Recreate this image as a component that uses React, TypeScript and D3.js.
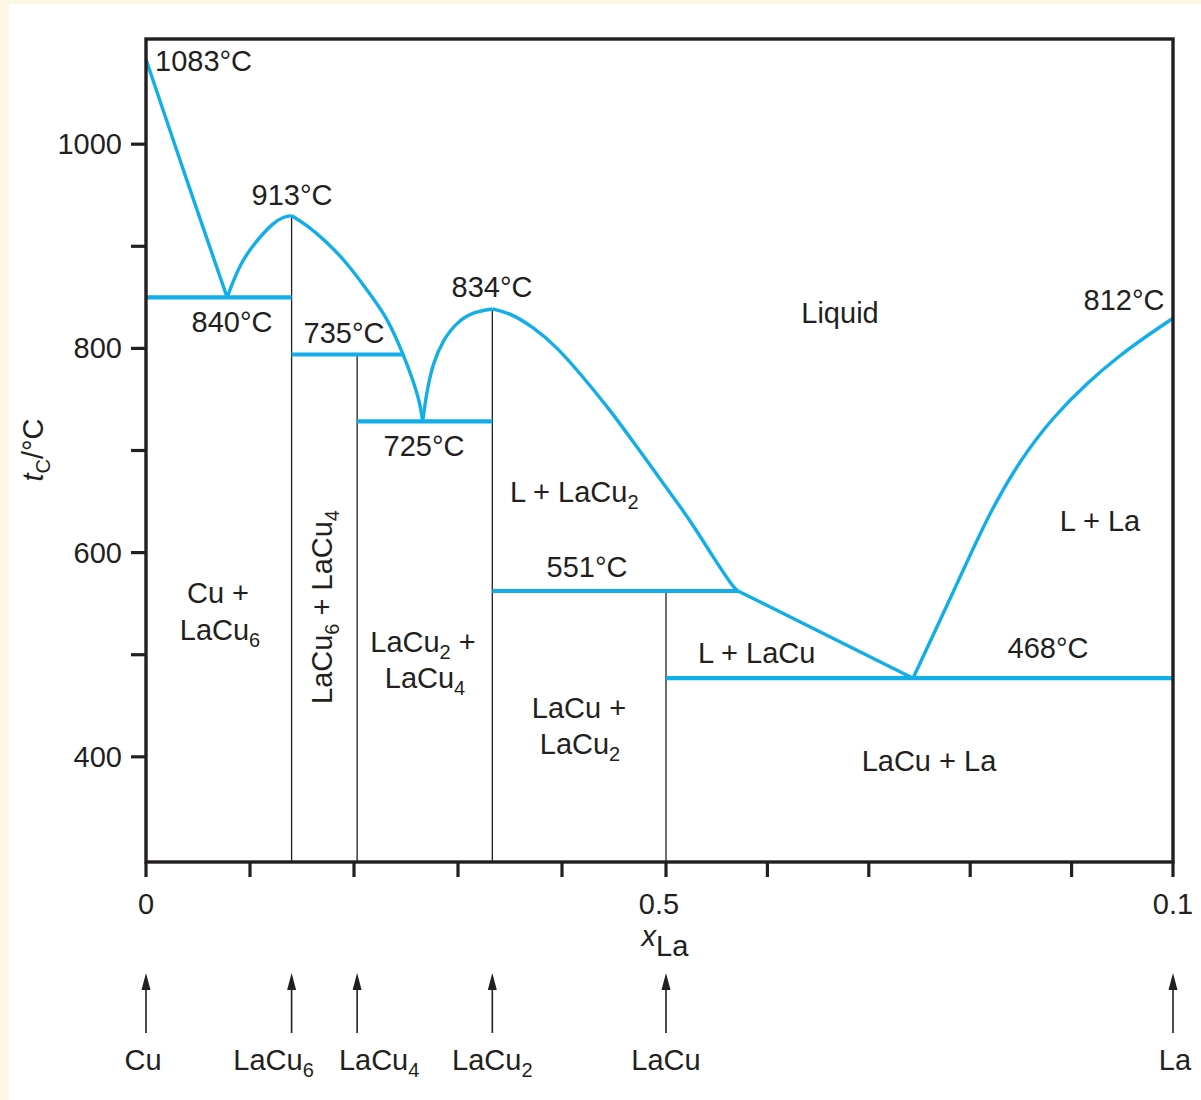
import React from 'react';
import * as d3 from 'd3';

const W = 1201;
const H = 1100;

// compounds and their mole fraction of La (as placed in the figure)
const compounds = ['Cu', 'LaCu_6', 'LaCu_4', 'LaCu_2', 'LaCu', 'La'];
const compoundX = [0, 0.14, 0.203, 0.333, 0.5, 1];
// temperature where each compound line starts (top of vertical line)
const compoundTop = [null, 930, 794, 838.6, 562.4, null];

// liquidus branches [xLa, t]
const liqCu = [[0, 1083], [0.039, 965], [0.078, 850]];
const liqLaCu6Left = [[0.078, 850], [0.0904, 883.6], [0.1067, 906], [0.1221, 922.8], [0.1317, 928.7], [0.14, 930]];
const liqLaCu6Right = [[0.14, 930], [0.1548, 920.8], [0.174, 904.2], [0.1933, 883.6], [0.2125, 857.2], [0.2317, 830.7],
  [0.2471, 795], [0.2567, 769], [0.2635, 746.5], [0.266, 728.5]];
const liqLaCu2Left = [[0.266, 728.5], [0.2702, 759.2], [0.276, 785.7], [0.2856, 808.2], [0.299, 825.8], [0.3144, 835.6], [0.333, 838.6]];
const liqLaCu2Right = [[0.333, 838.6], [0.35, 834.7], [0.3721, 821], [0.3952, 801.4], [0.4202, 772], [0.4462, 739.7],
  [0.4721, 703.4], [0.4971, 668.2], [0.5237, 631.9], [0.5464, 595.7], [0.5661, 566.3], [0.571, 562.4]];
const liqLaCu = [[0.571, 562.4], [0.7436, 477]];
const liqLa = [[0.7436, 477], [0.783, 560.4], [0.8166, 634.9], [0.8491, 690.7], [0.8817, 732.8], [0.9152, 766.1],
  [0.9477, 793.5], [0.9803, 816.5], [1, 829.5]];

// invariant lines (eutectic / peritectic)
const isoT = [850, 794, 728.5, 562.4, 477];
const isoFrom = [0, 0.14, 0.203, 0.333, 0.5];
const isoTo = [0.14, 0.2471, 0.333, 0.571, 1];

const yTicks = [400, 500, 600, 700, 800, 900, 1000];
const yTickLabels = [400, 600, 800, 1000];
const xTicks = [0, 0.1, 0.2, 0.3, 0.4, 0.5, 0.6, 0.7, 0.8, 0.9, 1];
const xTickLabels = ['0', '0.5', '0.1'];
const xTickLabelAt = [0, 0.5, 1];

const BLUE = '#12aee9';
const INK = '#231f20';
const FONT = '"Liberation Sans", Arial, Helvetica, sans-serif';

const x = d3.scaleLinear().domain([0, 0.5, 1]).range([146, 666, 1173]);
const y = d3.scaleLinear().domain([297, 1103]).range([862, 39]);

const Chem = ({ s, sub = 20, shift = -7 }: { s: string; sub?: number; shift?: number }) => {
  const parts = s.split(/_(\d)/);
  return (
    <>
      {parts.map((p, i) =>
        i % 2 === 0 ? (
          <tspan key={i}>{p}</tspan>
        ) : (
          <tspan key={i} fontSize={sub} baselineShift={shift}>{p}</tspan>
        )
      )}
    </>
  );
};

const App = () => {
  const line = d3.line<number[]>().x(d => x(d[0])).y(d => y(d[1])).curve(d3.curveBasis);
  const branches = [liqCu, liqLaCu6Left, liqLaCu6Right, liqLaCu2Left, liqLaCu2Right, liqLaCu, liqLa];

  const [x0, x1] = [x(0), x(1)];
  const [yb, yt] = [y(297), y(1103)];

  const T = (props: any) => <text fontFamily={FONT} fontSize={29} fill={INK} {...props} />;

  return (
    <svg width={W} height={H} style={{ position: 'absolute', left: 0, top: 0 }}>
      <rect x={0} y={0} width={W} height={H} fill="#fdf6e5" />
      <rect x={9} y={4} width={W - 9} height={H - 4} fill="#ffffff" />

      {/* compound vertical lines */}
      {compoundX.map((cx, i) =>
        compoundTop[i] == null ? null : (
          <line key={i} x1={x(cx)} x2={x(cx)} y1={y(compoundTop[i] as number)} y2={yb} stroke={INK} strokeWidth={1.3} />
        )
      )}

      {/* invariant lines */}
      {isoT.map((t, i) => (
        <line key={i} x1={x(isoFrom[i])} x2={x(isoTo[i])} y1={y(t)} y2={y(t)} stroke={BLUE} strokeWidth={4.2} />
      ))}

      {/* liquidus */}
      {branches.map((b, i) => (
        <path key={i} d={line(b) as string} fill="none" stroke={BLUE} strokeWidth={3.4} strokeLinejoin="round" />
      ))}

      {/* frame */}
      <rect x={x0} y={yt} width={x1 - x0} height={yb - yt} fill="none" stroke={INK} strokeWidth={3.4} />

      {/* y axis */}
      {yTicks.map(t => (
        <line key={t} x1={x0 - 15} x2={x0} y1={y(t)} y2={y(t)} stroke={INK} strokeWidth={3.2} />
      ))}
      {yTickLabels.map(t => (
        <T key={t} x={x0 - 24} y={y(t) + 10} textAnchor="end">{t}</T>
      ))}
      <T transform={`translate(43,450) rotate(-90)`} textAnchor="middle">
        <tspan fontStyle="italic">t</tspan>
        <tspan fontSize={20} baselineShift={-7}>C</tspan>
        <tspan>/°C</tspan>
      </T>

      {/* x axis */}
      {xTicks.map(v => (
        <line key={v} x1={x(v)} x2={x(v)} y1={yb} y2={yb + 15} stroke={INK} strokeWidth={3.2} />
      ))}
      {xTickLabels.map((l, i) => (
        <T key={l} x={x(xTickLabelAt[i]) - (xTickLabelAt[i] === 0.5 ? 7 : 0)} y={914} textAnchor="middle">{l}</T>
      ))}
      <T x={665} y={946} textAnchor="middle">
        <tspan fontStyle="italic">x</tspan>
        <tspan baselineShift={-10}>La</tspan>
      </T>

      {/* compound arrows */}
      {compoundX.map((cx, i) => {
        const px = x(cx);
        const p = d3.path();
        p.moveTo(px, 973);
        p.lineTo(px - 4.5, 990);
        p.lineTo(px + 4.5, 990);
        p.closePath();
        return (
          <g key={i}>
            <line x1={px} x2={px} y1={985} y2={1033} stroke={INK} strokeWidth={1.6} />
            <path d={p.toString()} fill={INK} />
          </g>
        );
      })}
      {compounds.map((c, i) => {
        const dx = [-3, -18, 22, 0, 0, 2][i];
        return (
          <T key={c} x={x(compoundX[i]) + dx} y={1070} textAnchor="middle">
            <Chem s={c} />
          </T>
        );
      })}

      {/* invariant temperatures */}
      <T x={155} y={71}>1083°C</T>
      <T x={292} y={205} textAnchor="middle">913°C</T>
      <T x={232} y={332} textAnchor="middle">840°C</T>
      <T x={344} y={343} textAnchor="middle">735°C</T>
      <T x={492} y={297} textAnchor="middle">834°C</T>
      <T x={424} y={456} textAnchor="middle">725°C</T>
      <T x={587} y={577} textAnchor="middle">551°C</T>
      <T x={1048} y={658} textAnchor="middle">468°C</T>
      <T x={1124} y={310} textAnchor="middle">812°C</T>

      {/* phase fields */}
      <T x={840} y={323} textAnchor="middle">Liquid</T>
      <T x={510} y={502}><Chem s="L + LaCu_2" /></T>
      <T x={1100} y={531} textAnchor="middle">L + La</T>
      <T x={698} y={663}>L + LaCu</T>
      <T x={218} y={603} textAnchor="middle">Cu +</T>
      <T x={220} y={640} textAnchor="middle"><Chem s="LaCu_6" /></T>
      <T transform="translate(332,607) rotate(-90)" textAnchor="middle"><Chem s="LaCu_6 + LaCu_4" /></T>
      <T x={423} y={652} textAnchor="middle"><Chem s="LaCu_2 +" /></T>
      <T x={425} y={688} textAnchor="middle"><Chem s="LaCu_4" /></T>
      <T x={579} y={718} textAnchor="middle">LaCu +</T>
      <T x={580} y={754} textAnchor="middle"><Chem s="LaCu_2" /></T>
      <T x={929} y={771} textAnchor="middle">LaCu + La</T>
    </svg>
  );
};

export default App;
